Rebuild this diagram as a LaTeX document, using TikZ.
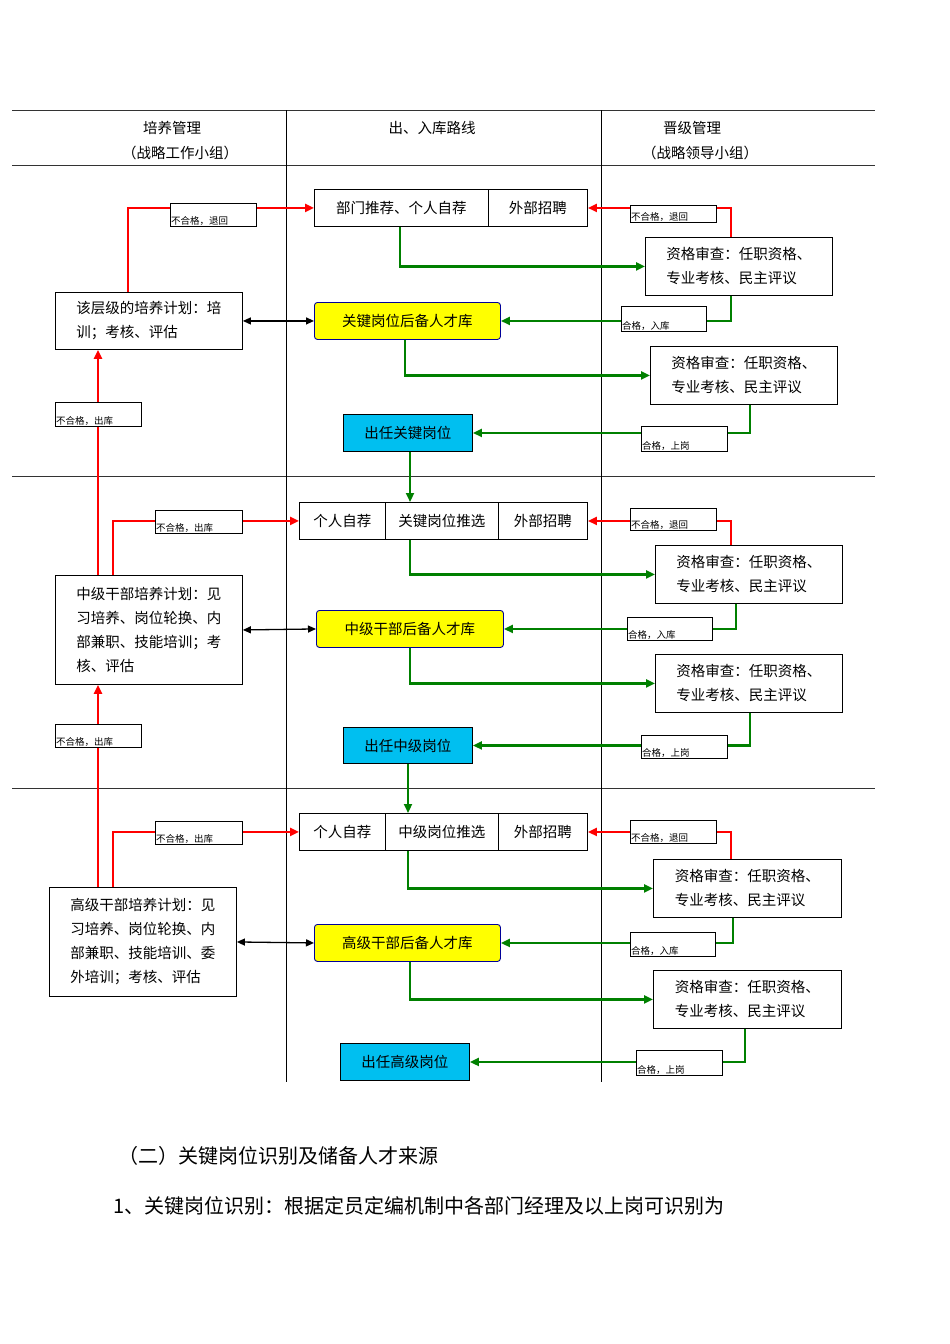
\documentclass[tikz,border=0pt]{standalone}
\usepackage{fontspec}
\setmainfont{Noto Sans CJK SC}
\usetikzlibrary{arrows.meta}
\definecolor{gr}{RGB}{0,128,0}
\definecolor{rd}{RGB}{255,0,0}
\definecolor{yl}{RGB}{255,255,0}
\definecolor{bl}{RGB}{0,191,240}
\tikzset{
 box/.style={draw=black,line width=0.9pt,fill=white,inner sep=0pt,font=\fontsize{14.5}{24}\selectfont,align=left},
 pool/.style={box,fill=yl,draw=blue!60!black,rounded corners=3pt},
 blu/.style={box,fill=bl},
 lab/.style={draw=black,line width=0.9pt,fill=white,inner sep=0pt},
 labt/.style={font=\fontsize{9.5}{10}\selectfont,inner sep=1pt,anchor=south west},
 g/.style={draw=gr,line width=2.2pt,-{Triangle[length=9pt,width=8pt]}},
 r/.style={draw=rd,line width=2.2pt,-{Triangle[length=9pt,width=8pt]}},
 rl/.style={draw=rd,line width=2.2pt},
 k/.style={line width=1.3pt,{Triangle[length=8pt,width=7pt]}-{Triangle[length=8pt,width=7pt]}},
 rule/.style={line width=0.8pt,draw=black!80}
}
\newcommand\Bx[7]{\node[#1,anchor=north west,minimum width={(#5-#3)*1pt},minimum height={(#6-#4)*1pt}] (#2) at (#3,#4) {#7};}
\newcommand\Lb[6]{\node[lab,anchor=north west,minimum width={(#4-#2)*1pt},minimum height={(#5-#3)*1pt}] (#1) at (#2,#3) {};\node[labt] at (#1.south west) {#6};}
\begin{document}
\begin{tikzpicture}[x=1pt,y=-1pt]
\useasboundingbox (0,0) rectangle (950,1344);
% frame
\coordinate (h1a) at (12,110); \coordinate (h1b) at (875,110);
\draw[rule] (h1a) -- (h1b);
\draw[rule] (12,165) -- (875,165);
\draw[rule] (12,476) -- (875,476);
\draw[rule] (12,788) -- (875,788);
\draw[line width=0.7pt] (286,110) -- (286,1082);
\draw[line width=0.7pt] (601,110) -- (601,1082);
\begin{scope}[font=\fontsize{14.5}{16}\selectfont]
\node (t1) at (172,128) {培养管理};
\node (t2) at (180,153) {（战略工作小组）};
\node (t3) at (432,128) {出、入库路线};
\node (t4) at (692,128) {晋级管理};
\node (t5) at (700,153) {（战略领导小组）};
\end{scope}

% ---------- section 1
\Bx{box}{a1}{314}{189}{488}{226}{\hfil 部门推荐、个人自荐}
\Bx{box}{a2}{488}{189}{587}{226}{外部招聘}
\Bx{box}{r1}{645}{237}{832}{295}{资格审查：任职资格、\\专业考核、民主评议}
\Bx{pool}{p1}{314}{302}{500}{339}{关键岗位后备人才库}
\Bx{box}{r2}{650}{346}{837}{404}{资格审查：任职资格、\\专业考核、民主评议}
\Bx{blu}{b1}{343}{414}{472}{451}{出任关键岗位}
\Bx{box}{L1}{55}{292}{242}{349}{该层级的培养计划：培\\训；考核、评估}

% ---------- section 2
\Bx{box}{c1}{299}{502}{385}{539}{个人自荐}
\Bx{box}{c2}{385}{502}{498}{539}{关键岗位推选}
\Bx{box}{c3}{498}{502}{587}{539}{外部招聘}
\Bx{box}{r3}{655}{545}{842}{603}{资格审查：任职资格、\\专业考核、民主评议}
\Bx{pool}{p2}{316}{610}{503}{647}{中级干部后备人才库}
\Bx{box}{r4}{655}{654}{842}{712}{资格审查：任职资格、\\专业考核、民主评议}
\Bx{blu}{b2}{343}{727}{472}{763}{出任中级岗位}
\Bx{box}{L2}{55}{575}{242}{684}{中级干部培养计划：见\\习培养、岗位轮换、内\\部兼职、技能培训；考\\核、评估}

% ---------- section 3
\Bx{box}{d1}{299}{813}{385}{850}{个人自荐}
\Bx{box}{d2}{385}{813}{498}{850}{中级岗位推选}
\Bx{box}{d3}{498}{813}{587}{850}{外部招聘}
\Bx{box}{r5}{653}{859}{841}{917}{资格审查：任职资格、\\专业考核、民主评议}
\Bx{pool}{p3}{314}{924}{500}{961}{高级干部后备人才库}
\Bx{box}{r6}{653}{970}{841}{1028}{资格审查：任职资格、\\专业考核、民主评议}
\Bx{blu}{b3}{340}{1043}{469}{1080}{出任高级岗位}
\Bx{box}{L3}{49}{887}{236}{996}{高级干部培养计划：见\\习培养、岗位轮换、内\\部兼职、技能培训、委\\外培训；考核、评估}

% ---------- connectors section 1
\draw[g] (a1.south -| 400,0) |- (r1.west);
\draw[g] (r1.south -| 731,0) |- (p1.east);
\draw[g] (p1.south -| 405,0) |- (r2.west);
\draw[g] (r2.south -| 750,0) |- (b1.east);
\draw[g] (b1.south -| 410,0) -- (c2.north -| 410,0);
\draw[r] (r1.north -| 731,0) |- (a2.east);
\draw[r] (L1.north -| 128,0) |- (a1.west);
\draw[k] (L1.east) -- (p1.west);
\draw[r] (L2.north -| 98,0) -- (L1.south -| 98,0);
% section 2
\draw[g] (c2.south -| 410,0) |- (r3.west);
\draw[g] (r3.south -| 736,0) |- (p2.east);
\draw[g] (p2.south -| 410,0) |- (r4.west);
\draw[g] (r4.south -| 750,0) |- (b2.east);
\draw[g] (b2.south -| 408,0) -- (d2.north -| 408,0);
\draw[r] (r3.north -| 731,0) |- (c3.east);
\draw[r] (L2.north -| 113,0) |- (c1.west);
\draw[k] (L2.east) -- (p2.west);
\draw[r] (L3.north -| 98,0) -- (L2.south -| 98,0);
% section 3
\draw[g] (d2.south -| 408,0) |- (r5.west);
\draw[g] (r5.south -| 733,0) |- (p3.east);
\draw[g] (p3.south -| 410,0) |- (r6.west);
\draw[g] (r6.south -| 745,0) |- (b3.east);
\draw[r] (r5.north -| 731,0) |- (d3.east);
\draw[r] (L3.north -| 113,0) |- (d1.west);
\draw[k] (L3.east) -- (p3.west);

% ---------- labels
\Lb{l1}{630}{205}{716}{222}{不合格，退回}
\Lb{l2}{621}{306}{706}{331}{合格，入库}
\Lb{l3}{641}{426}{727}{451}{合格，上岗}
\Lb{l4}{170}{203}{256}{226}{不合格，退回}
\Lb{l5}{55}{402}{141}{426}{不合格，出库}
\Lb{l6}{630}{508}{716}{530}{不合格，退回}
\Lb{l7}{627}{617}{712}{640}{合格，入库}
\Lb{l8}{641}{735}{727}{758}{合格，上岗}
\Lb{l9}{155}{510}{242}{533}{不合格，出库}
\Lb{l10}{55}{724}{141}{747}{不合格，出库}
\Lb{l11}{630}{820}{716}{843}{不合格，退回}
\Lb{l12}{630}{932}{715}{956}{合格，入库}
\Lb{l13}{636}{1050}{722}{1075}{合格，上岗}
\Lb{l14}{155}{821}{242}{844}{不合格，出库}

% ---------- bottom text
\node[anchor=west,font=\fontsize{20}{22}\selectfont,inner sep=0pt] (tx1) at (118,1156) {（二）关键岗位识别及储备人才来源};
\node[anchor=west,font=\fontsize{20}{22}\selectfont,inner sep=0pt] (tx2) at (113,1206) {1、关键岗位识别：根据定员定编机制中各部门经理及以上岗可识别为};
\end{tikzpicture}
\end{document}
